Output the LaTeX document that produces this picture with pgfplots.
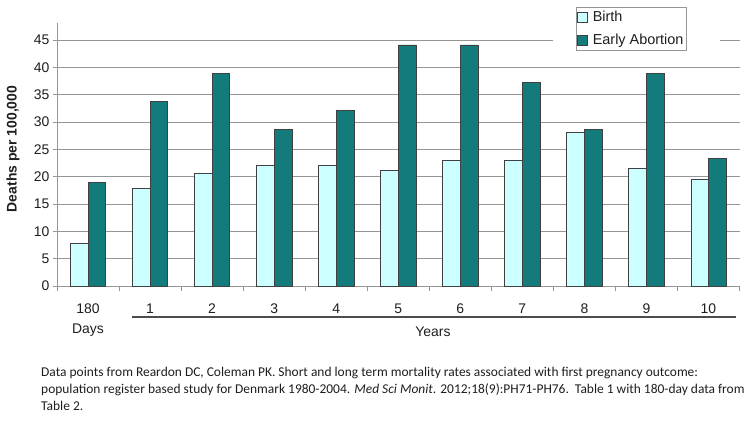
\documentclass[border=0pt]{standalone}
\usepackage{pgfplots}
\pgfplotsset{compat=1.18}
\usepackage{fontspec}
\setmainfont{Liberation Sans}
\newfontfamily\capfont{Carlito}
\definecolor{birth}{RGB}{204,255,255}
\definecolor{abort}{RGB}{19,123,123}
\definecolor{gridgray}{RGB}{150,150,150}
\definecolor{txt}{RGB}{30,30,30}
\begin{document}
\begin{tikzpicture}
\useasboundingbox (0,0) rectangle (753bp,-426bp);
\begin{axis}[
  at={(57bp,-286bp)}, anchor=south west, scale only axis,
  width=682.5bp, height=263bp,
  xmin=-0.5, xmax=10.5, ymin=0, ymax=48.1,
  axis lines*=left,
  axis line style={draw=gridgray, line width=0.8bp},
  ytick={0,5,...,45},
  ymajorgrids, grid style={draw=gridgray, line width=0.8bp},
  xtick={0,...,10},
  xticklabels={{180\\Days},1,2,3,4,5,6,7,8,9,10},
  minor xtick={-0.5,0.5,...,10.5},
  major x tick style={draw=none},
  minor x tick style={draw=gridgray, line width=0.8bp},
  y tick style={draw=gridgray, line width=0.8bp},
  tick align=outside,
  minor tick length=5bp, major tick length=4bp,
  ybar=0pt, bar width=0.285,
  tick label style={font=\fontsize{14}{20}\selectfont, text=txt},
  xticklabel style={align=center, yshift=-10bp},
  /pgf/number format/assume math mode=true,
  ylabel={Deaths per 100,000},
  ylabel style={at={(axis description cs:-0.0645,0.521)}, anchor=center,
    font=\fontsize{14}{16}\selectfont\bfseries, text=txt},
  legend style={at={(axis description cs:0.7604,1.062)}, anchor=north west,
    draw=gridgray, fill=white, font=\fontsize{14.5}{16}\selectfont, text=txt,
    inner xsep=1bp, inner ysep=2bp, row sep=7bp, column sep=3bp,
    nodes={inner xsep=2bp}},
  legend cell align=left,
  legend image code/.code={\draw[#1, draw=black!75, line width=0.6bp] (0bp,-5bp) rectangle (10bp,5bp);},
]
\fill[white] (rel axis cs:0.7267,0.90) rectangle (rel axis cs:0.9714,0.99);
\addplot[fill=birth, draw=black!75, line width=0.6bp] coordinates {
  (0,7.8) (1,17.8) (2,20.6) (3,22.1) (4,22.1) (5,21.2) (6,22.9) (7,22.9) (8,28.2) (9,21.6) (10,19.6)};
\addplot[fill=abort, draw=black!75, line width=0.6bp] coordinates {
  (0,18.9) (1,33.8) (2,38.9) (3,28.7) (4,32.1) (5,44.1) (6,44.1) (7,37.3) (8,28.7) (9,38.9) (10,23.4)};
\legend{Birth, Early Abortion}
\end{axis}
\draw[black!70, line width=1.5bp] (132bp,-317bp) -- (736bp,-317bp);
\node[font=\fontsize{14}{16}\selectfont, text=txt] at (433bp,-332bp) {Years};
\begin{scope}[every node/.style={anchor=base west, inner sep=0pt, text=txt, font=\capfont\fontsize{13.5}{15}\selectfont}]
\node at (41bp,-376bp) {Data points from Reardon DC, Coleman PK. Short and long term mortality rates associated with first pregnancy outcome:};
\node at (41bp,-393bp) {population register based study for Denmark 1980-2004. \textit{Med Sci Monit}. 2012;18(9):PH71-PH76.\ \ Table 1 with 180-day data from};
\node at (41bp,-410bp) {Table 2.};
\end{scope}
\end{tikzpicture}
\end{document}
